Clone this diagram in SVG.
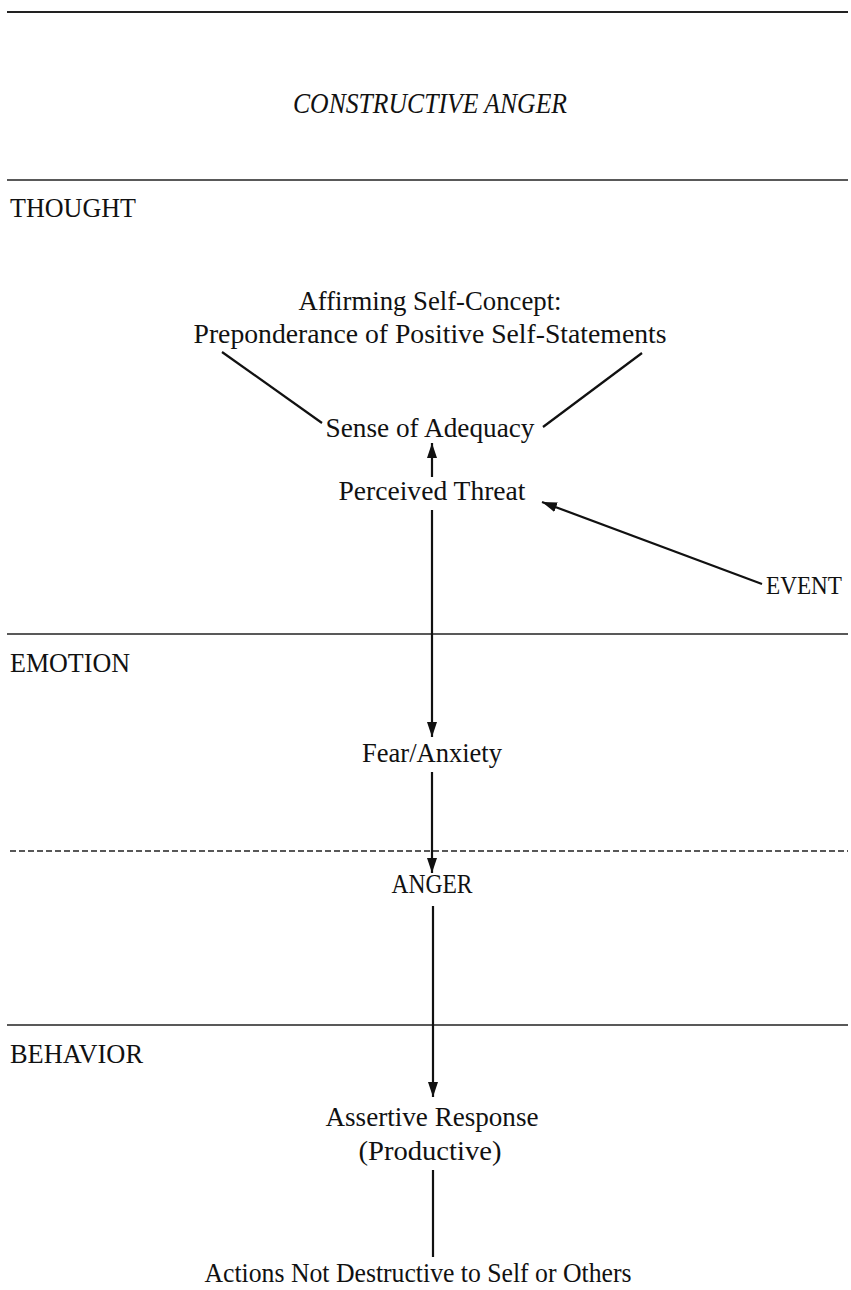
<svg xmlns="http://www.w3.org/2000/svg" width="851" height="1290" viewBox="0 0 851 1290">
<style>
.t{font-family:"Liberation Serif",serif;font-size:27px;fill:#111;text-anchor:middle}
.s{font-family:"Liberation Serif",serif;font-size:27px;fill:#111}
.rule{stroke:#222;stroke-width:1.4;fill:none}
.c{stroke:#111;stroke-width:2.2;fill:none}
</style>
<defs>
<marker id="ah" viewBox="0 0 15 10" refX="15" refY="5" markerWidth="15" markerHeight="10" markerUnits="userSpaceOnUse" orient="auto">
<path d="M0,0 L15,5 L0,10 Z" fill="#111"/>
</marker>
</defs>
<g id="rules">
<line class="rule" x1="7" y1="12" x2="848" y2="12" style="stroke-width:2.2"/>
<line class="rule" x1="7" y1="180" x2="848" y2="180"/>
<line class="rule" x1="7" y1="634" x2="848" y2="634"/>
<line class="rule" x1="10" y1="851" x2="848" y2="851" stroke-dasharray="6,3"/>
<line class="rule" x1="7" y1="1025" x2="848" y2="1025"/>
</g>
<g id="title"><text x="430" y="113" class="t" style="font-style:italic;font-size:29px" textLength="274" lengthAdjust="spacingAndGlyphs">CONSTRUCTIVE ANGER</text></g>
<g id="label-thought"><text x="10" y="217" class="s" textLength="126" lengthAdjust="spacingAndGlyphs">THOUGHT</text></g>
<g id="label-emotion"><text x="10" y="672" class="s" textLength="120" lengthAdjust="spacingAndGlyphs">EMOTION</text></g>
<g id="label-behavior"><text x="10" y="1063" class="s" textLength="133" lengthAdjust="spacingAndGlyphs">BEHAVIOR</text></g>
<g id="self-concept">
<text x="430" y="310" class="t" textLength="263" lengthAdjust="spacingAndGlyphs">Affirming Self-Concept:</text>
<text x="430" y="343" class="t" textLength="473" lengthAdjust="spacingAndGlyphs">Preponderance of Positive Self-Statements</text>
</g>
<g id="adequacy"><text x="430" y="437" class="t" textLength="209" lengthAdjust="spacingAndGlyphs">Sense of Adequacy</text></g>
<g id="threat"><text x="432" y="500" class="t" textLength="187" lengthAdjust="spacingAndGlyphs">Perceived Threat</text></g>
<g id="event"><text x="766" y="594" class="s" style="font-size:26px" textLength="76" lengthAdjust="spacingAndGlyphs">EVENT</text></g>
<g id="fear"><text x="432" y="762" class="t" textLength="140" lengthAdjust="spacingAndGlyphs">Fear/Anxiety</text></g>
<g id="anger"><text x="432" y="893" class="t" textLength="81" lengthAdjust="spacingAndGlyphs">ANGER</text></g>
<g id="assertive">
<text x="432" y="1126" class="t" textLength="213" lengthAdjust="spacingAndGlyphs">Assertive Response</text>
<text x="430" y="1160" class="t" textLength="143" lengthAdjust="spacingAndGlyphs">(Productive)</text>
</g>
<g id="actions"><text x="418" y="1282" class="t" textLength="427" lengthAdjust="spacingAndGlyphs">Actions Not Destructive to Self or Others</text></g>
<g id="connectors">
<line class="c" x1="222" y1="352" x2="322" y2="423"/>
<line class="c" x1="642" y1="353" x2="543" y2="427"/>
<line class="c" x1="432" y1="477" x2="432" y2="443" marker-end="url(#ah)"/>
<line class="c" x1="762" y1="584" x2="542" y2="502" marker-end="url(#ah)"/>
<line class="c" x1="432" y1="510" x2="432" y2="737" marker-end="url(#ah)"/>
<line class="c" x1="432" y1="772" x2="432" y2="873" marker-end="url(#ah)"/>
<line class="c" x1="433" y1="906" x2="433" y2="1097" marker-end="url(#ah)"/>
<line class="c" x1="433" y1="1170" x2="433" y2="1257"/>
</g>
</svg>
